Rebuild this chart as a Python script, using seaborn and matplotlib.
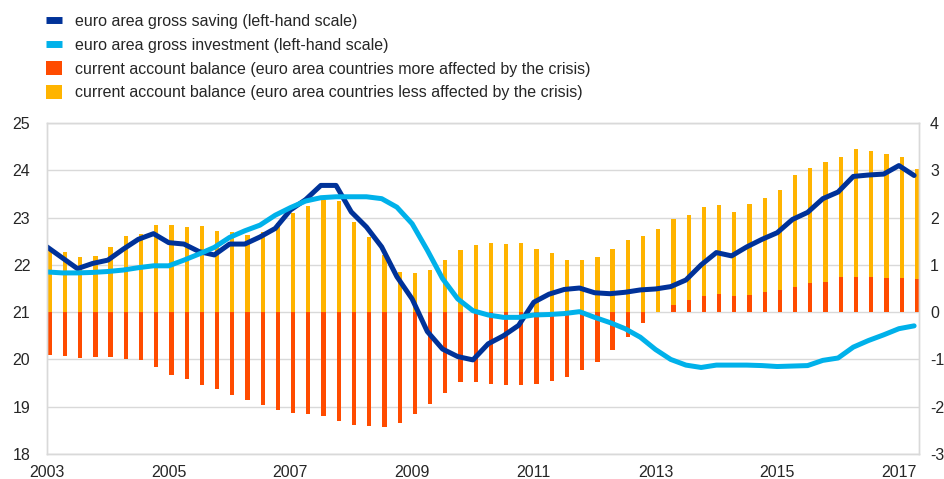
import numpy as np
import pandas as pd
import matplotlib
matplotlib.use("Agg")
import matplotlib.pyplot as plt
from matplotlib.lines import Line2D
from matplotlib.patches import Patch
import seaborn as sns

# Quarterly data, 2003 Q1 - 2017 Q2
quarters = 2003 + 0.25 * np.arange(58)

# euro area gross saving / investment, % of GDP (left-hand scale)
saving = [22.38, 22.15, 21.92, 22.03, 22.10, 22.33, 22.54, 22.66, 22.47, 22.44,
          22.28, 22.21, 22.44, 22.44, 22.59, 22.77, 23.16, 23.38, 23.68, 23.68,
          23.12, 22.80, 22.38, 21.75, 21.28, 20.59, 20.22, 20.06, 19.99, 20.33,
          20.50, 20.72, 21.21, 21.38, 21.48, 21.51, 21.41, 21.39, 21.42, 21.47,
          21.49, 21.54, 21.68, 22.00, 22.26, 22.19, 22.38, 22.54, 22.68, 22.96,
          23.11, 23.40, 23.54, 23.87, 23.90, 23.92, 24.10, 23.89]
investment = [21.85, 21.83, 21.83, 21.84, 21.86, 21.89, 21.94, 21.98, 21.98, 22.10,
              22.23, 22.37, 22.58, 22.72, 22.84, 23.05, 23.21, 23.35, 23.42, 23.44,
              23.44, 23.44, 23.40, 23.22, 22.87, 22.31, 21.71, 21.28, 21.03, 20.94,
              20.89, 20.89, 20.94, 20.95, 20.97, 21.01, 20.89, 20.78, 20.65, 20.47,
              20.21, 20.00, 19.88, 19.83, 19.88, 19.88, 19.88, 19.87, 19.85, 19.86,
              19.87, 19.98, 20.03, 20.26, 20.40, 20.52, 20.65, 20.71]

# current account balance contributions (right-hand scale)
ca_more = [-0.91, -0.93, -0.96, -0.95, -0.94, -0.99, -1.02, -1.15, -1.33, -1.41,
           -1.54, -1.63, -1.76, -1.85, -1.97, -2.08, -2.13, -2.15, -2.19, -2.31,
           -2.38, -2.40, -2.42, -2.34, -2.16, -1.94, -1.70, -1.47, -1.47, -1.51,
           -1.54, -1.55, -1.53, -1.46, -1.37, -1.22, -1.06, -0.80, -0.53, -0.24,
           0.00, 0.15, 0.25, 0.34, 0.39, 0.34, 0.37, 0.42, 0.46, 0.53,
           0.61, 0.63, 0.74, 0.74, 0.74, 0.72, 0.72, 0.70]
ca_less = [1.33, 1.27, 1.16, 1.18, 1.37, 1.60, 1.66, 1.84, 1.84, 1.81,
           1.82, 1.72, 1.70, 1.64, 1.69, 1.89, 2.10, 2.24, 2.37, 2.34,
           1.90, 1.58, 1.20, 0.84, 0.83, 0.89, 1.11, 1.32, 1.41, 1.47,
           1.45, 1.46, 1.33, 1.25, 1.11, 1.11, 1.17, 1.33, 1.52, 1.60,
           1.76, 1.81, 1.80, 1.88, 1.87, 1.77, 1.92, 1.99, 2.13, 2.36,
           2.44, 2.55, 2.55, 2.72, 2.67, 2.62, 2.56, 2.32]

left_ticks = list(range(18, 26))
right_ticks = list(range(-3, 5))
year_ticks = list(range(2003, 2018, 2))

labels = ['euro area gross saving (left-hand scale)',
          'euro area gross investment (left-hand scale)',
          'current account balance (euro area countries more affected by the crisis)',
          'current account balance (euro area countries less affected by the crisis)']
colors = ['#003299', '#00B1EA', '#FF4B00', '#FFB400']

df = pd.DataFrame({'date': quarters, 'saving': saving, 'investment': investment,
                   'more': ca_more, 'less': ca_less})

sns.set_style("white")
plt.rcParams['font.family'] = ['Liberation Sans', 'DejaVu Sans']
plt.rcParams['font.size'] = 11.5
grid_col = '#d9d9d9'

fig = plt.figure(figsize=(9.44, 4.79), dpi=100)
ax = fig.add_axes([0.0498, 0.0522, 0.9237, 0.691])
ax2 = ax.twinx()
ax.set_zorder(2)
ax2.set_zorder(1)
ax.patch.set_visible(False)

# bars on the right-hand scale, yellow stacked on top of positive red values
bar_x = df['date'] + 0.045
ax2.bar(bar_x, df['more'], width=0.07, color=colors[2], linewidth=0, zorder=2)
bottom = np.where((df['more'] > 0) & (df['less'] > 0), df['more'], 0)
ax2.bar(bar_x, df['less'], bottom=bottom, width=0.07, color=colors[3],
        linewidth=0, zorder=2)
ax2.set_ylim(-3, 4)
ax2.set_yticks(right_ticks)
ax2.set_yticklabels([str(t) for t in right_ticks])
ax2.set_axisbelow(True)
ax2.grid(True, color=grid_col, linewidth=1)
ax2.tick_params(axis='y', length=0, pad=8, labelsize=11.5)

# lines on the left-hand scale
sns.lineplot(x='date', y='saving', data=df, ax=ax, color=colors[0], linewidth=3.6)
sns.lineplot(x='date', y='investment', data=df, ax=ax, color=colors[1], linewidth=3.6)
ax.set_ylim(18, 25)
ax.set_yticks(left_ticks)
ax.set_xlim(2003, 2017.33)
ax.set_xticks(year_ticks)
ax.set_xticklabels([str(y) for y in year_ticks])
ax.tick_params(axis='both', length=0, labelsize=11.5)
ax.tick_params(axis='y', pad=12)
ax.tick_params(axis='x', pad=8)
ax.set(xlabel='', ylabel='')
ax2.set(xlabel='', ylabel='')

for a in (ax, ax2):
    for s in a.spines.values():
        s.set_color(grid_col)
        s.set_linewidth(1)

handles = [Line2D([], [], color=colors[0], linewidth=5, solid_capstyle='butt'),
           Line2D([], [], color=colors[1], linewidth=5, solid_capstyle='butt'),
           Patch(color=colors[2], linewidth=0),
           Patch(color=colors[3], linewidth=0)]
fig.legend(handles, labels, loc='upper left', bbox_to_anchor=(0.042, 0.985),
           frameon=False, fontsize=11.5, handlelength=1.0, handleheight=0.9,
           handletextpad=0.8, labelspacing=0.55, borderaxespad=0.0)

fig.savefig('out.png', dpi=100)
